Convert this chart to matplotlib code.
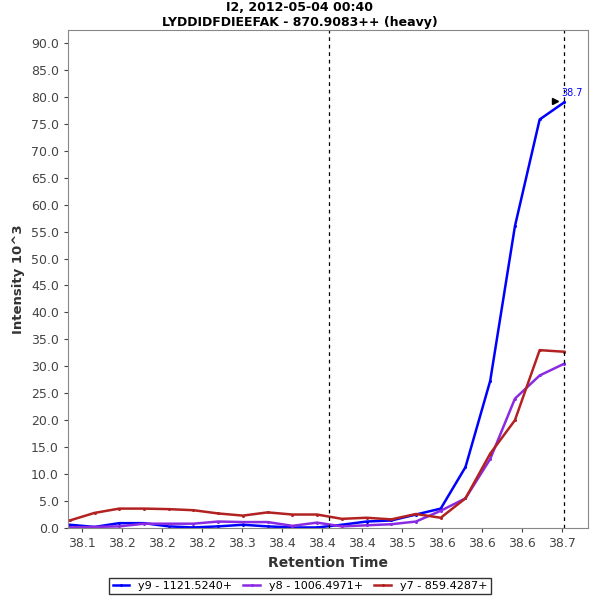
import matplotlib
matplotlib.use("Agg")
import matplotlib.pyplot as plt

# retention times of the 21 scans
rt = [38.085 + 0.0309 * i for i in range(21)]
y9 = [0.6, 0.2, 0.9, 0.9, 0.3, 0.1, 0.3, 0.6, 0.3, 0.1, 0.1, 0.6, 1.2, 1.4, 2.5, 3.6,
      11.3, 27.3, 56.0, 75.8, 79.0]
y8 = [0.1, 0.2, 0.3, 0.8, 0.8, 0.8, 1.2, 1.1, 1.1, 0.4, 1.0, 0.3, 0.5, 0.7, 1.2, 3.2,
      5.5, 12.8, 24.0, 28.3, 30.5]
y7 = [1.4, 2.8, 3.6, 3.6, 3.5, 3.3, 2.7, 2.3, 2.9, 2.5, 2.5, 1.7, 1.9, 1.6, 2.6, 1.9,
      5.5, 13.8, 20.0, 33.0, 32.7]
series = [("y9 - 1121.5240+", y9, "#0000ff"),
          ("y8 - 1006.4971+", y8, "#8a2be2"),
          ("y7 - 859.4287+", y7, "#b22222")]
tick_vals = [38.1 + 0.05 * i for i in range(13)]
tick_labels = ["38.1", "38.2", "38.2", "38.2", "38.3", "38.4", "38.4",
               "38.4", "38.5", "38.6", "38.6", "38.6", "38.7"]
vlines = [38.409, 38.7025]
peak_rt, peak_val, peak_label = 38.703, 79.0, "38.7"

fig = plt.figure(figsize=(6, 6), dpi=100)
ax = fig.add_axes([0.113, 0.12, 0.867, 0.83])
for name, vals, col in series:
    ax.plot(rt, vals, color=col, lw=1.8, label=name, marker="o", markersize=1.2)
for v in vlines:
    ax.axvline(v, color="black", ls=(0, (3, 3)), lw=0.9)

ax.plot([peak_rt - 0.012], [peak_val + 0.2], marker=">", color="black", markersize=5)
ax.text(peak_rt - 0.004, peak_val + 1.2, peak_label, color="#0000ff", fontsize=7)

ax.set_xlim(38.0825, 38.7325)
ax.set_ylim(0, 92.4)
ax.set_xticks(tick_vals)
ax.set_xticklabels(tick_labels)
ax.set_yticks([5 * i for i in range(19)])
ax.set_yticklabels([f"{5 * i:.1f}" for i in range(19)])
ax.tick_params(labelsize=9, colors="#444444", length=3)
for s in ax.spines.values():
    s.set_color("#888888")
ax.set_xlabel("Retention Time", fontsize=10, fontweight="bold", color="#333333")
ax.set_ylabel("Intensity 10^3", fontsize=9.5, fontweight="bold", color="#333333")
fig.suptitle("I2, 2012-05-04 00:40\nLYDDIDFDIEEFAK - 870.9083++ (heavy)",
             fontsize=9, fontweight="bold", y=0.998)
fig.legend(loc="lower center", ncol=3, bbox_to_anchor=(0.5, 0.0), fontsize=8,
           frameon=True, fancybox=False, edgecolor="black", handlelength=1.5,
           columnspacing=1.0, borderpad=0.3)
fig.savefig("out.png")
